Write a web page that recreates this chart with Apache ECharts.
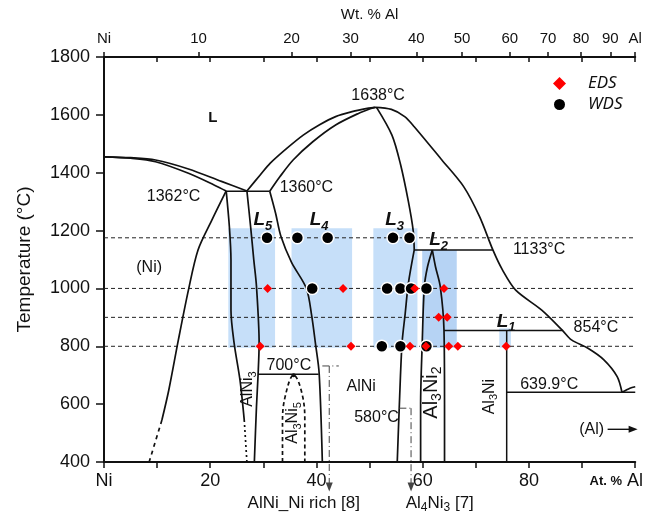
<!DOCTYPE html>
<html>
<head>
<meta charset="utf-8">
<script src="https://cdn.jsdelivr.net/npm/echarts@6/dist/echarts.min.js"></script>
<style>
	html,body{margin:0;padding:0;background:#fff;}
	#NiAlChart{width:665px;height:519px;}
</style>
</head>
<body>
<div id="NiAlChart"></div>
<script>
	// ---------- data, x = at.% Al, y = temperature in °C ----------
	var wtTickPos = [0, 17.8, 35.3, 46.4, 58.8, 67.4, 76.4, 83.6, 89.8, 95.3, 100];
	var wtTickText = ['Ni', '10', '20', '30', '40', '50', '60', '70', '80', '90', 'Al'];
	var dashedTemps = [1175, 1000, 900, 800];

	// phase boundaries
	var niLiquidus = [[0,1455],[5,1452],[9.7,1444],[15.9,1413],[22.1,1370],[26.9,1337]];
	var niSolidus = [[0,1455],[5,1450],[9.7,1438],[15.9,1398],[20.8,1357],[23.0,1337]];
	var eutectic1362 = [[23.0,1336],[31.2,1336]];
	var alniLiquidusL = [[26.9,1337],[29.4,1392],[31.3,1433],[34.4,1484],[37.5,1530],[40.5,1565],[43.6,1594],[46.7,1611],[49.8,1623],[51.0,1626]];
	var alniSolidusL = [[31.2,1336],[33.1,1386],[35.6,1444],[39.3,1507],[43.6,1565],[47.9,1605],[50.4,1623],[51.0,1626]];
	var alLiquidus = [[51.0,1626],[54.1,1619],[56.6,1594],[58.4,1559],[63.6,1444],[67.7,1352],[70.7,1248],[73.2,1133],[75.0,1064],[77.5,994],[82.4,925],[86.3,855],[88.0,822],[91.1,793],[94.1,753],[96.6,695],[97.5,641]];
	var alSide = [[97.5,641],[99.0,655],[100,660]];
	var alniRightUp = [[51.3,1626],[54.2,1530],[55.8,1430],[57.3,1300],[58.2,1200],[58.4,1133]];
	var alniRightLow = [[58.4,1133],[57.3,1018],[56.7,914],[56.1,810],[55.6,600],[55.2,400]];
	var peri1133 = [[58.4,1133],[73.2,1133]];
	var al3ni2L = [[61.8,1133],[60.9,1075],[60.3,1006],[59.9,810],[59.6,600],[59.6,400]];
	var al3ni2R = [[61.8,1133],[62.4,1075],[63.3,1006],[64.0,855],[64.1,600],[64.1,400]];
	var peri854 = [[64.0,855],[86.3,855]];
	var al3niLine = [[75.8,855],[75.8,400]];
	var eut640 = [[75.8,641],[100,641]];
	var alni3L = [[23.0,1337],[23.6,1213],[23.9,1098],[23.9,925],[24.5,810],[25.6,683],[26.4,545]];
	var alni3LDot = [[26.4,545],[26.9,400]];
	var alni3R = [[26.9,1337],[27.6,1213],[28.2,1098],[28.7,1008],[29.2,810],[29.0,700],[28.7,591],[28.3,400]];
	var alniL = [[31.2,1336],[32.3,1260],[33.3,1180],[35.3,1090],[38.1,1000],[39.1,905],[39.8,810],[40.5,707],[41.1,400]];
	var niSolvus = [[23.0,1337],[20.3,1236],[17.7,1133],[15.9,995],[14.0,822],[12.2,649],[10.9,545]];
	var niSolvusDash = [[10.9,545],[8.5,400]];
	var al3ni5Dome = [[33.6,400],[33.6,534],[34.1,626],[35.7,700],[37.4,626],[37.8,534],[37.8,400]];
	var line700 = [[29.0,703],[40.4,703]];

	// reference markers
	var ref700H = [[41.1,732],[44.2,732]];
	var ref700V = [[42.4,732],[42.4,314]];
	var ref580H = [[55.6,586],[57.8,586]];
	var ref580V = [[57.8,586],[57.8,314]];
	var alArrow = [[94.8,513],[99.6,513]];

	// analysed regions [x0, x1, Ttop, Tbottom]
	var boxes = [[23.4,32.2,1208,795],[35.3,46.7,1208,795],[50.7,59.0,1208,795],[59.9,66.4,1133,795],[74.4,76.6,862,795]];

	var edsPoints = [[30.8,1000],[45.0,1000],[29.4,800],[46.5,800],[58.5,1000],[64.0,1000],[63.0,900],[64.6,900],[57.6,800],[60.6,800],[64.9,800],[66.6,800],[75.7,800]];
	var wdsPoints = [[30.7,1175],[36.4,1175],[42.1,1175],[54.4,1175],[57.5,1175],[39.2,1000],[53.3,1000],[55.8,1000],[57.8,1000],[60.7,1000],[52.3,800],[55.8,800],[60.7,800]];

	// text [text, x, T]
	var tempLabels = [['1638°C',51.6,1665],['1362°C',13.1,1319],['1360°C',38.1,1348],['1133°C',81.9,1133],['854°C',92.6,866],['639.9°C',83.8,666],['700°C',34.8,732],['580°C',51.3,555]];
	var regionLabels = [['(Ni)',8.5,1071],['AlNi',48.4,660],['(Al)',91.8,513]];
	var phaseLabels = [['AlNi3',27.1,652],['Al3Ni5',35.5,535],['Al3Ni',72.5,626]];
	var phaseLabelsBig = [['Al3Ni2',61.6,640]];
	var lLabels = [['L5',29.9,1236],['L4',40.5,1236],['L3',54.7,1236],['L2',63.0,1167],['L1',75.7,885]];
	var refLabels = [['AlNi_Ni rich [8]',37.6,258],['Al4Ni3 [7]',63.2,258]];

	var FONT = '"Liberation Sans", Arial, sans-serif';
	var boxColors = ['#c6dff9','#c6dff9','#c6dff9','#b6d3f4','#c6dff9'];

	function curve(data, extra){
		var s = {type:'line', data:data, symbol:'none', smooth:0.3, clip:false, silent:true, z:3,
			lineStyle:{color:'#111', width:1.7}};
		return Object.assign(s, extra || {});
	}
	function straight(data, extra){
		return curve(data, Object.assign({smooth:false}, extra || {}));
	}
	function subs(str){
		return str.replace(/([A-Za-z])(\d)/g, '$1{s|$2}');
	}
	function subStyle(size, pad, extra){
		return Object.assign({fontSize:size, fontFamily:FONT, color:'#111', padding:[pad,0,0,0]}, extra || {});
	}
	function textSeries(list, label, fmt){
		return {
			type:'scatter', symbolSize:0, silent:true, clip:false, z:8,
			itemStyle:{opacity:1},
			data: list.map(function(t){ return {name:t[0], value:[t[1], t[2]]}; }),
			label: Object.assign({show:true, position:'inside', color:'#111', fontFamily:FONT, fontSize:16,
				formatter: function(p){ return fmt ? fmt(p.name) : p.name; }}, label)
		};
	}
	function arrowLine(data, rot, style){
		var pts = data.slice(0, -1).concat([{value:data[data.length-1], symbol:'triangle', symbolSize:[7,9], symbolRotate:rot,
			itemStyle:{color:style.color}}]);
		return {type:'line', data:pts, symbol:'none', showSymbol:true, clip:false, silent:true, z:4, lineStyle:style};
	}

	var dashDot = {color:'#444', width:1, type:[7,3,1,3]};

	var series = [
		{
			type:'custom', name:'regions', data:boxes, silent:true, z:1, clip:false,
			encode:{x:[0,1], y:[2,3]},
			renderItem:function(params, api){
				var p0 = api.coord([api.value(0), api.value(2)]);
				var p1 = api.coord([api.value(1), api.value(3)]);
				return {type:'rect', shape:{x:p0[0], y:p0[1], width:p1[0]-p0[0], height:p1[1]-p0[1]},
					style:{fill:boxColors[params.dataIndex]}};
			}
		}
	];
	dashedTemps.forEach(function(t){
		series.push(straight([[0,t],[100,t]], {z:2, lineStyle:{color:'#222', width:1, type:[4,3]}}));
	});
	[niLiquidus, niSolidus, alniLiquidusL, alniSolidusL, alLiquidus, alSide, alniRightUp, alniRightLow,
	 al3ni2L, al3ni2R, alni3L, alni3R, alniL, niSolvus].forEach(function(d){ series.push(curve(d)); });
	[eutectic1362, peri1133, peri854, al3niLine, eut640, line700].forEach(function(d){
		series.push(straight(d, {lineStyle:{color:'#111', width:1.5}}));
	});
	series.push(straight(alni3LDot, {lineStyle:{color:'#111', width:1.7, type:[2,3]}}));
	series.push(straight(niSolvusDash, {lineStyle:{color:'#111', width:1.7, type:[4,4]}}));
	series.push(curve(al3ni5Dome, {smooth:0.4, lineStyle:{color:'#111', width:1.7, type:[4,3]}}));
	series.push(straight([[35.7,700]], {symbol:'circle', symbolSize:4, showSymbol:true, itemStyle:{color:'#111'}}));
	series.push(straight(ref700H, {lineStyle:dashDot}));
	series.push(straight(ref580H, {lineStyle:dashDot}));
	series.push(arrowLine(ref700V, 180, dashDot));
	series.push(arrowLine(ref580V, 180, dashDot));
	series.push(arrowLine(alArrow, -90, {color:'#111', width:1.4}));

	series.push({name:'WDS', type:'scatter', data:wdsPoints, symbol:'circle', symbolSize:12, z:6, clip:false,
		itemStyle:{color:'#000', borderColor:'#fff', borderWidth:1.5, opacity:1}});
	series.push({name:'EDS', type:'scatter', data:edsPoints, symbol:'diamond', symbolSize:9, z:7, clip:false,
		itemStyle:{color:'#ff0000', opacity:1}});

	series.push(textSeries(tempLabels, {}));
	series.push(textSeries(regionLabels, {}));
	series.push(textSeries([['L',20.5,1589]], {fontWeight:'bold', fontSize:15}));
	series.push(textSeries(phaseLabels, {rotate:90, rich:{s:subStyle(11, 10)}}, subs));
	series.push(textSeries(phaseLabelsBig, {rotate:90, fontSize:20, rich:{s:subStyle(14, 12)}}, subs));
	series.push(textSeries(lLabels, {fontSize:19, fontWeight:'bold', fontStyle:'italic',
		rich:{s:subStyle(13, 12, {fontWeight:'bold', fontStyle:'italic'})}}, subs));
	series.push(textSeries(refLabels, {fontSize:17, rich:{s:subStyle(12, 10)}}, subs));

	var option = {
		animation:false,
		backgroundColor:'#fff',
		textStyle:{fontFamily:FONT},
		grid:{left:104, right:20, top:57, bottom:57, containLabel:false},
		legend:{
			data:[{name:'EDS', icon:'diamond'}, {name:'WDS', icon:'circle'}],
			orient:'vertical', left:547, top:70, itemWidth:13, itemHeight:13, itemGap:4,
			selectedMode:false,
			textStyle:{fontSize:17, fontStyle:'italic', color:'#111', fontFamily:'"Noto Sans", sans-serif', padding:[0,0,0,17]}
		},
		xAxis:[
			{
				type:'value', position:'bottom', min:0, max:100, interval:10,
				axisLine:{lineStyle:{color:'#111', width:2}},
				axisTick:{inside:false, length:6, lineStyle:{color:'#111', width:1.5}},
				splitLine:{show:false},
				axisLabel:{margin:10, fontSize:18, color:'#111', fontFamily:FONT,
					formatter:function(v){
						if (v === 0) return 'Ni';
						if (v === 100) return '{b|At. %} Al{p|}';
						return (v % 20 === 0) ? String(v) : '';
					},
					rich:{b:{fontWeight:'bold', fontSize:13, color:'#111', fontFamily:FONT}, p:{width:38}}
				}
			},
			{
				type:'value', position:'top', min:0, max:100,
				name:'Wt. % Al', nameLocation:'middle', nameGap:35,
				nameTextStyle:{fontSize:15, color:'#111', fontFamily:FONT},
				axisLine:{lineStyle:{color:'#111', width:2}},
				axisTick:{inside:false, length:5, customValues:wtTickPos, lineStyle:{color:'#111', width:1.5}},
				splitLine:{show:false},
				axisLabel:{margin:11, fontSize:15, color:'#111', fontFamily:FONT, customValues:wtTickPos,
					formatter:function(v){
						var i = wtTickPos.indexOf(v);
						return i >= 0 ? wtTickText[i] : '';
					}
				}
			},
			{
				type:'value', position:'top', min:0, max:100, interval:10,
				axisLine:{show:false},
				axisTick:{inside:true, length:5, lineStyle:{color:'#111', width:1.5}},
				axisLabel:{show:false},
				splitLine:{show:false}
			}
		],
		yAxis:[
			{
				type:'value', position:'left', min:400, max:1800, interval:200,
				name:'Temperature (°C)', nameLocation:'middle', nameGap:70,
				nameTextStyle:{fontSize:19, color:'#111', fontFamily:FONT},
				axisLine:{show:true, lineStyle:{color:'#111', width:2}},
				axisTick:{show:true, inside:false, length:8, lineStyle:{color:'#111', width:1.5}},
				splitLine:{show:false},
				axisLabel:{margin:14, fontSize:18, color:'#111', fontFamily:FONT,
					formatter:function(v){ return String(v); }}
			},
			{
				type:'value', position:'right', min:400, max:1800, interval:200,
				axisLine:{show:true, lineStyle:{color:'#111', width:2}},
				axisTick:{show:true, inside:true, length:5, lineStyle:{color:'#111', width:1.5}},
				splitLine:{show:false},
				axisLabel:{show:false}
			}
		],
		series:series
	};

	var chart = echarts.init(document.getElementById('NiAlChart'));
	chart.setOption(option);
</script>
</body>
</html>
